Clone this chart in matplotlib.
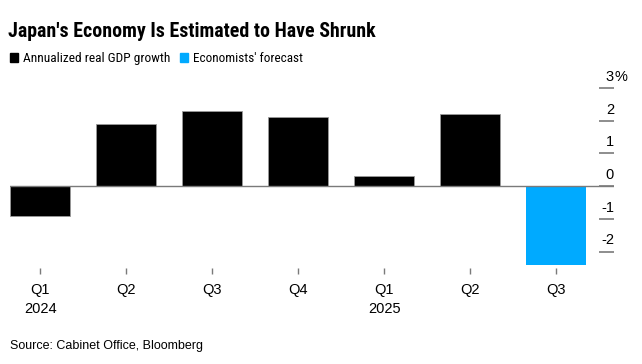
import matplotlib
matplotlib.use('Agg')
import matplotlib.pyplot as plt

plt.rcParams['font.family'] = ['Liberation Sans', 'DejaVu Sans']
NARROW = ['Roboto Condensed', 'Archivo Narrow', 'Liberation Sans', 'DejaVu Sans']

# Annualized real GDP growth (%) by quarter
quarters = ['Q1', 'Q2', 'Q3', 'Q4', 'Q1', 'Q2', 'Q3']
years = ['2024', '', '', '', '2025', '', '']
actual = [-0.9, 1.9, 2.3, 2.1, 0.3, 2.2]
forecast = [-2.4]
yticks = [-2, -1, 0, 1, 2, 3]

BLACK = '#000000'
BLUE = '#00aaff'
GRID = '#7a7a7a'

fig = plt.figure(figsize=(6.42, 3.64), dpi=100)
ax = fig.add_axes([0.0156, 0.2637, 0.9408, 0.4945])

x_act = list(range(len(actual)))
x_fc = list(range(len(actual), len(actual) + len(forecast)))
ax.bar(x_act, actual, width=0.7, color=BLACK, edgecolor='#9a9a9a', linewidth=0.6, zorder=2)
ax.bar(x_fc, forecast, width=0.7, color=BLUE, linewidth=0, zorder=2)

ax.axhline(0, color=GRID, linewidth=1.0, zorder=3)

ax.set_xlim(-0.35, 6.67)
ax.set_ylim(-2.5, 3.0)

for s in ax.spines.values():
    s.set_visible(False)

# x axis
ax.set_xticks(range(len(quarters)))
ax.set_xticklabels([q if not y else f'{q}\n{y}' for q, y in zip(quarters, years)],
                   fontsize=10.5, color='black')
for lbl in ax.get_xticklabels():
    lbl.set_linespacing(1.45)
    lbl.set_verticalalignment('top')
ax.tick_params(axis='x', direction='out', length=4, width=1, color=GRID, pad=7)

# y axis on the right: short tick lines with labels sitting above them
ax.yaxis.tick_right()
ax.set_yticks(yticks)
ax.set_yticklabels([])
ax.tick_params(axis='y', direction='in', length=11, width=1.2, color=GRID, right=True, left=False)
for t in yticks:
    ax.annotate(str(t), xy=(1.0, t), xycoords=('axes fraction', 'data'),
                xytext=(0, 3), textcoords='offset points',
                ha='right', va='bottom', fontsize=10.5, annotation_clip=False)
ax.annotate('%', xy=(1.0, yticks[-1]), xycoords=('axes fraction', 'data'),
            xytext=(0, 3), textcoords='offset points',
            ha='left', va='bottom', fontsize=10.5, annotation_clip=False)

# title, legend, source
title = fig.text(8 / 642, 1 - 37 / 364, "Japan's Economy Is Estimated to Have Shrunk",
                 fontsize=13, fontweight='bold', ha='left', va='baseline', family=NARROW)

fig.patches.append(plt.Rectangle((10 / 642, 1 - 62 / 364), 8 / 642, 9 / 364,
                                 transform=fig.transFigure, color=BLACK))
leg1 = fig.text(23 / 642, 1 - 62 / 364, 'Annualized real GDP growth', fontsize=10,
                ha='left', va='baseline', family=NARROW)
fig.patches.append(plt.Rectangle((180 / 642, 1 - 62 / 364), 8 / 642, 9 / 364,
                                 transform=fig.transFigure, color=BLUE))
leg2 = fig.text(193 / 642, 1 - 62 / 364, "Economists' forecast", fontsize=10,
                ha='left', va='baseline', family=NARROW)

fig.text(10 / 642, 1 - 349 / 364, 'Source: Cabinet Office, Bloomberg', fontsize=9,
         ha='left', va='baseline')

# size the condensed texts to the widths they take in the original
fig.canvas.draw()
r = fig.canvas.get_renderer()
for txt, target in [(title, 365), (leg1, 147), (leg2, 110)]:
    w = txt.get_window_extent(r).width
    txt.set_fontsize(txt.get_fontsize() * target / w)

fig.savefig('out.png', dpi=100)
